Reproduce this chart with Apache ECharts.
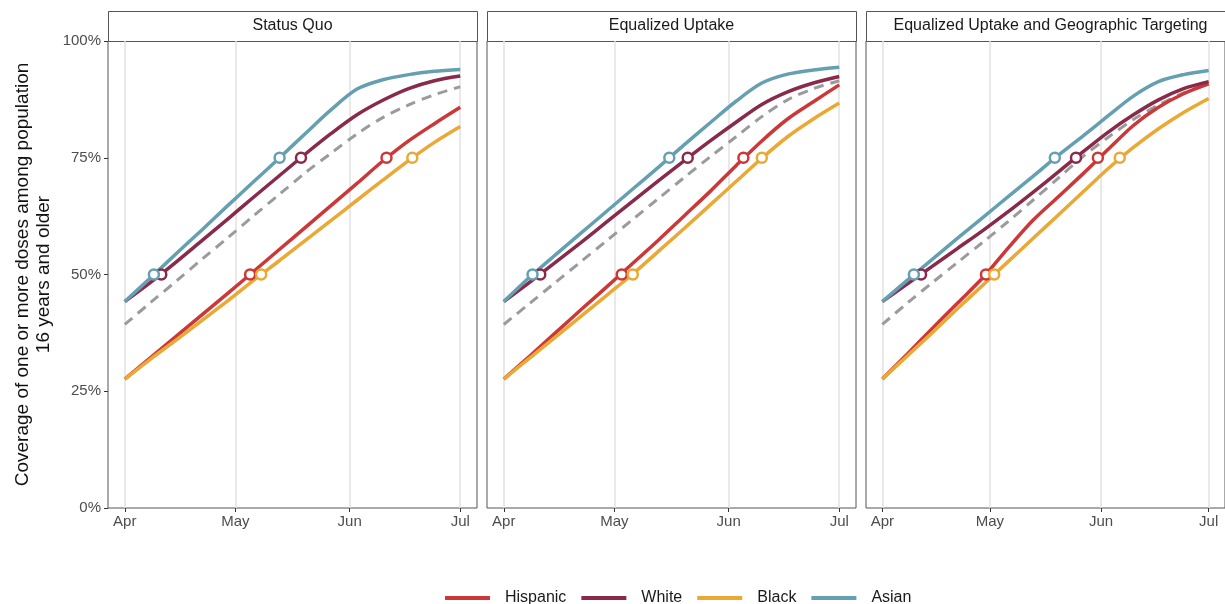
<!DOCTYPE html>
<html lang="en">
<head>
<meta charset="UTF-8">
<title>Coverage by scenario</title>
<script src="https://cdn.jsdelivr.net/npm/echarts@6/dist/echarts.min.js"></script>
<style>
    html, body { margin: 0; padding: 0; background: #fff; }
    #container { width: 1225px; height: 604px; }
</style>
</head>
<body>
<div id="container"></div>
<script>
    // x values are days since Apr 1 (2021)
    var days = [0, 7, 14, 21, 28, 35, 42, 49, 56, 63, 70, 77, 84, 91];
    var monthTicks = [0, 30, 61, 91];
    var monthLabels = ['Apr', 'May', 'Jun', 'Jul'];

    var panels = ['Status Quo', 'Equalized Uptake', 'Equalized Uptake and Geographic Targeting'];
    var groups = ['Hispanic', 'White', 'Black', 'Asian'];
    var colors = ['#cc3838', '#8a2a4b', '#eaa934', '#65a0b2'];

    // Status Quo
    var sqHispanic = [27.6, 32.2, 36.8, 41.4, 46.0, 50.7, 55.4, 60.1, 64.8, 69.5, 74.3, 78.6, 82.3, 85.8];
    var sqWhite    = [44.2, 48.3, 52.7, 57.3, 61.9, 66.6, 71.2, 75.8, 80.2, 84.2, 87.3, 89.8, 91.5, 92.5];
    var sqBlack    = [27.6, 31.9, 36.0, 40.2, 44.4, 48.8, 53.0, 57.3, 61.6, 65.9, 70.2, 74.4, 78.3, 81.7];
    var sqAsian    = [44.2, 49.3, 54.5, 59.6, 64.8, 69.9, 75.0, 80.2, 85.3, 89.7, 91.7, 92.8, 93.5, 93.9];
    var sqOverall  = [39.3, 44.0, 48.6, 53.3, 57.9, 62.6, 67.2, 71.8, 76.0, 80.1, 83.6, 86.3, 88.5, 90.2];

    // Equalized Uptake
    var euHispanic = [27.6, 32.5, 37.5, 42.5, 47.4, 52.4, 57.4, 62.6, 67.8, 73.3, 78.6, 83.3, 87.0, 90.6];
    var euWhite    = [44.2, 48.3, 52.6, 56.9, 61.3, 65.7, 70.1, 74.4, 78.6, 82.6, 86.4, 89.1, 91.0, 92.4];
    var euBlack    = [27.6, 32.1, 36.6, 41.1, 45.6, 50.1, 55.0, 59.9, 64.9, 69.9, 74.9, 79.5, 83.3, 86.7];
    var euAsian    = [44.2, 49.4, 54.2, 58.9, 63.6, 68.3, 73.0, 77.8, 82.5, 87.1, 91.0, 92.9, 93.8, 94.4];
    var euOverall  = [39.3, 43.8, 48.3, 52.8, 57.3, 61.8, 66.3, 70.8, 75.2, 79.5, 83.8, 87.4, 89.8, 91.5];

    // Equalized Uptake and Geographic Targeting
    var gtHispanic = [27.6, 33.0, 38.5, 43.9, 49.3, 55.6, 61.6, 66.6, 71.6, 76.8, 81.9, 85.8, 88.7, 90.8];
    var gtWhite    = [44.2, 48.0, 51.8, 55.6, 59.4, 63.4, 67.6, 71.9, 76.3, 80.5, 84.2, 87.4, 89.8, 91.3];
    var gtBlack    = [27.6, 32.6, 37.6, 42.7, 47.7, 52.7, 57.7, 62.7, 67.7, 72.7, 77.2, 81.2, 84.7, 87.7];
    var gtAsian    = [44.2, 48.8, 53.3, 57.8, 62.2, 66.6, 71.0, 75.5, 79.7, 84.0, 88.2, 91.3, 92.8, 93.7];
    var gtOverall  = [39.3, 43.9, 48.3, 52.6, 56.9, 61.3, 65.9, 70.6, 75.3, 79.4, 83.2, 86.3, 88.9, 90.8];

    // day each group reaches 50% / 75%  (order: Hispanic, White, Black, Asian)
    var reach50 = [[34.0, 9.9, 37.0, 7.9], [32.0, 9.9, 35.0, 7.8], [28.9, 10.8, 31.2, 8.8]];
    var reach75 = [[71.0, 47.8, 78.0, 42.0], [65.0, 49.9, 70.0, 44.9], [60.1, 54.0, 66.2, 48.1]];

    var panelGroups = [
        [sqHispanic, sqWhite, sqBlack, sqAsian],
        [euHispanic, euWhite, euBlack, euAsian],
        [gtHispanic, gtWhite, gtBlack, gtAsian]
    ];
    var panelOverall = [sqOverall, euOverall, gtOverall];

    var gridLeft = [108, 487, 866];
    var gridTop = 41, gridW = 369, gridH = 467;

    var toPoints = function (vals) {
        return days.map(function (d, k) { return [d, vals[k]]; });
    };

    var grids = [], xAxes = [], yAxes = [], series = [], graphics = [];

    panels.forEach(function (title, i) {
        grids.push({
            left: gridLeft[i], top: gridTop, width: gridW, height: gridH,
            show: true, borderColor: '#555', borderWidth: 1, backgroundColor: '#fff'
        });
        xAxes.push({
            type: 'value', gridIndex: i, min: -4.55, max: 95.55,
            axisLine: { show: false, onZero: false },
            splitLine: { show: false },
            axisTick: { show: true, customValues: monthTicks, length: 4, lineStyle: { color: '#333' } },
            axisLabel: {
                customValues: monthTicks, margin: 6, fontSize: 15, color: '#4d4d4d',
                formatter: function (v) { return monthLabels[monthTicks.indexOf(v)]; }
            }
        });
        yAxes.push({
            type: 'value', gridIndex: i, min: 0, max: 100, interval: 25,
            axisLine: { show: false, onZero: false },
            splitLine: { show: false },
            axisTick: { show: i === 0, length: 4, lineStyle: { color: '#333' } },
            axisLabel: { show: i === 0, formatter: '{value}%', fontSize: 15, color: '#4d4d4d', margin: 7 },
            name: i === 0 ? 'Coverage of one or more doses among population\n16 years and older' : '',
            nameLocation: 'middle',
            nameRotate: 90,
            nameGap: 54,
            nameTextStyle: { fontSize: 19, lineHeight: 21, color: '#111' }
        });

        // overall (dashed) with the vertical month gridlines
        series.push({
            type: 'line', name: 'Overall', xAxisIndex: i, yAxisIndex: i,
            data: toPoints(panelOverall[i]),
            showSymbol: false, smooth: 0.3, silent: true, z: 3,
            lineStyle: { color: '#9b9b9b', width: 3, type: [10, 7] },
            markLine: {
                silent: true, symbol: 'none', z: 1, label: { show: false },
                lineStyle: { color: '#e2e2e2', width: 1.5, type: 'solid' },
                data: monthTicks.map(function (m) { return { xAxis: m }; })
            }
        });

        groups.forEach(function (g, j) {
            series.push({
                type: 'line', name: g, xAxisIndex: i, yAxisIndex: i,
                data: toPoints(panelGroups[i][j]),
                showSymbol: false, smooth: 0.3, silent: true, z: 3,
                itemStyle: { color: colors[j] },
                lineStyle: { color: colors[j], width: 3.5 }
            });
        });
        groups.forEach(function (g, j) {
            series.push({
                type: 'scatter', name: g + ' milestones', xAxisIndex: i, yAxisIndex: i,
                data: [[reach50[i][j], 50], [reach75[i][j], 75]],
                symbol: 'circle', symbolSize: 10, silent: true, z: 4,
                itemStyle: { color: '#fff', borderColor: colors[j], borderWidth: 2.5, opacity: 1 }
            });
        });

        // facet strip
        graphics.push({
            type: 'rect', left: gridLeft[i], top: 11,
            shape: { width: gridW, height: 30 },
            style: { fill: '#fff', stroke: '#555', lineWidth: 1 }
        });
        graphics.push({
            type: 'text', x: gridLeft[i] + gridW / 2, y: 26,
            style: {
                text: title, fill: '#1a1a1a', fontSize: 16,
                fontFamily: 'Liberation Sans, Arial, sans-serif',
                align: 'center', verticalAlign: 'middle'
            }
        });
    });

    var chart = echarts.init(document.getElementById('container'));
    chart.setOption({
        animation: false,
        textStyle: { fontFamily: 'Liberation Sans, Arial, sans-serif' },
        grid: grids,
        xAxis: xAxes,
        yAxis: yAxes,
        legend: {
            data: groups,
            left: 440, top: 585,
            icon: 'rect', itemWidth: 45, itemHeight: 4, itemGap: 15,
            textStyle: { fontSize: 16, color: '#1a1a1a', padding: [0, 0, 0, 10] }
        },
        graphic: graphics,
        series: series
    });
</script>
</body>
</html>
